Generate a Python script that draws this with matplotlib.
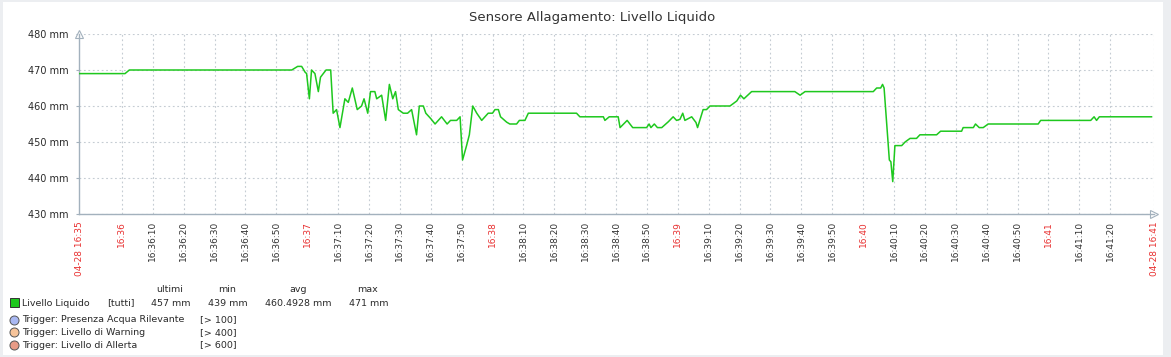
#!/usr/bin/env python3
"""Zabbix-style graph: Sensore Allagamento - Livello Liquido (04-28, 16:35-16:41)."""
import matplotlib
matplotlib.use("Agg")
import matplotlib.pyplot as plt
from matplotlib.patches import Rectangle
from matplotlib.lines import Line2D

W, H = 1171, 357

# seconds after 16:35:00 and level in mm
t_sec = [46, 61, 62.4, 115, 116.9, 118.2, 119.3, 119.8, 120.7, 121.4, 122.5, 123.6,
         124.3, 126.1, 127.6, 128.4, 129.5, 130.6, 132.2, 133.3, 134.6, 136.2, 137.6,
         138.4, 139.6, 140.5, 141.9, 142.5, 144.1, 145.4, 146.6, 147.7, 148.6, 149.5,
         151.1, 152.5, 153.8, 155.4, 156.3, 157.6, 158.4, 160, 161.4, 163.5, 165.3,
         166.4, 168.4, 169.5, 170.3, 171.6, 172.5, 173.6, 174.9, 176.5, 178.6, 180,
         180.8, 181.9, 182.6, 184.6, 185.6, 187.8, 188.7, 190.5, 191.6, 207.2, 208.3,
         215.9, 216.4, 217.8, 220.7, 221.3, 223.6, 225.4, 229.9, 230.7, 231.3, 232.4,
         233.4, 234.8, 236.9, 238.5, 239.6, 240.7, 241.6, 242.3, 244.5, 245.9, 246.4,
         248.2, 249.3, 250.4, 256.9, 259.1, 260.3, 261.4, 263.9, 277.9, 279.6, 281.2,
         303.3, 304.4, 305.7, 306.3, 306.8, 308.5, 309, 309.6, 310.3, 312.5, 313.6,
         315.2, 317.3, 318.4, 323.8, 325.1, 331.9, 332.4, 335.7, 336.4, 337.6, 338.9,
         340.5, 356.7, 357.5, 373.7, 374.8, 375.6, 376.5, 393.4]
level = [469, 469, 470, 470, 471, 471, 469.4, 469, 462, 470, 469, 464,
         468, 470, 470, 458, 459, 454, 462, 461, 465, 459, 460,
         462, 458, 464, 464, 462, 463, 456, 466, 462, 464, 459,
         458, 458, 459, 452, 460, 460, 458, 456.5, 455, 457, 455,
         456, 456, 457, 445, 449, 452, 460, 458, 456, 458, 458,
         459, 459, 457, 455.5, 455, 455, 456, 456, 458, 458, 457,
         457, 456, 457, 457, 454, 456, 454, 454, 455, 454, 455,
         454, 454, 455.6, 457, 456, 456.3, 458, 456, 457, 455.4, 454,
         459, 459, 460, 460, 461.4, 463, 462, 464, 464, 463, 464,
         464, 465, 465, 466, 465, 445, 444.5, 439, 449, 449, 450,
         451, 451, 452, 452, 453, 453, 454, 454, 455, 454, 454,
         455, 455, 456, 456, 457, 456, 457, 457]

t_start, t_end = 46.1, 394.2
y_ticks = [430, 440, 450, 460, 470, 480]
x_ticks = list(range(60, 390, 10))
edge_labels = ["04-28 16:35", "04-28 16:41"]

legend_stats = ["457 mm", "439 mm", "460.4928 mm", "471 mm"]
legend_heads = ["ultimi", "min", "avg", "max"]
triggers = [("Trigger: Presenza Acqua Rilevante", "[> 100]", "#a9b8f2"),
            ("Trigger: Livello di Warning", "[> 400]", "#f7c49a"),
            ("Trigger: Livello di Allerta", "[> 600]", "#e79b86")]

LINE = "#1ec81e"
GRID = "#c5ccd3"
AXIS = "#a3b1bd"
RED = "#e83030"
TXT = "#2a2a2a"
DOT = (0, (1.6, 2.4))
LFS = 6.8


def fx(px):
    return px / W


def fy(py):
    return 1 - py / H


fig = plt.figure(figsize=(W / 100, H / 100), dpi=100, facecolor="#eceef1")
fig.patches.append(Rectangle((fx(3), fy(355)), fx(1160), 353 / H, transform=fig.transFigure,
                             facecolor="white", edgecolor="none", zorder=-5))

ax = fig.add_axes([fx(79), fy(214), fx(1154 - 79), 180 / H])
ax.set_facecolor("none")
ax.plot(t_sec, level, color=LINE, lw=1.1, zorder=3)
ax.set_xlim(t_start, t_end)
ax.set_ylim(430, 480)

ax.set_yticks(y_ticks)
ax.set_yticklabels([f"{v} mm" for v in y_ticks], fontsize=7, color=TXT)
ax.set_xticks(x_ticks)
labs = []
for s in x_ticks:
    m, sec = divmod(s, 60)
    labs.append(f"16:{35 + m:02d}" if sec == 0 else f"16:{35 + m:02d}:{sec:02d}")
ax.set_xticklabels(labs, rotation=90, fontsize=6.5, color="#333333")
for lab, s in zip(ax.get_xticklabels(), x_ticks):
    if s % 60 == 0:
        lab.set_color(RED)
ax.tick_params(axis="y", length=2.5, color=AXIS, pad=5)
ax.tick_params(axis="x", length=0, pad=5)

ax.grid(True, color=GRID, ls=DOT, lw=0.8)
ax.axvline(t_end, color=GRID, ls=DOT, lw=0.8)
for sp in ["top", "right"]:
    ax.spines[sp].set_visible(False)
for sp in ["left", "bottom"]:
    ax.spines[sp].set_color(AXIS)
    ax.spines[sp].set_linewidth(1)

# arrow heads at axis ends
ax.plot([0], [1.0], marker="^", ms=6, mfc="white", mec=AXIS, mew=0.8,
        transform=ax.transAxes, clip_on=False)
ax.plot([1.0], [0], marker=">", ms=6, mfc="white", mec=AXIS, mew=0.8,
        transform=ax.transAxes, clip_on=False)

# edge time labels
for t, lab in zip([t_start, t_end], edge_labels):
    ax.annotate(lab, (t, 430), xytext=(0, -5), textcoords="offset points", rotation=90,
                fontsize=6.5, color=RED, ha="center", va="top", annotation_clip=False)

fig.text(fx(592), fy(18), "Sensore Allagamento: Livello Liquido", ha="center", va="center",
         fontsize=9.5, color="#333333")

# legend block
for x, h in zip([170, 227, 298, 368], legend_heads):
    fig.text(fx(x), fy(290), h, ha="center", va="center", fontsize=LFS, color=TXT)
fig.patches.append(Rectangle((fx(10), fy(307)), fx(8.5), 9 / H, transform=fig.transFigure,
                             facecolor=LINE, edgecolor="#333333", lw=0.7))
fig.text(fx(22), fy(303), "Livello Liquido", ha="left", va="center", fontsize=LFS, color=TXT)
fig.text(fx(107), fy(303), "[tutti]", ha="left", va="center", fontsize=LFS, color=TXT)
for x, s in zip([151, 208, 265, 349], legend_stats):
    fig.text(fx(x), fy(303), s, ha="left", va="center", fontsize=LFS, color=TXT)

for i, (name, cond, col) in enumerate(triggers):
    y = 319.5 + i * 12.8
    fig.add_artist(Line2D([fx(14)], [fy(y)], marker="o", ms=6.5, mfc=col, mec="#555555",
                          mew=0.7, transform=fig.transFigure))
    fig.text(fx(22), fy(y), name, ha="left", va="center", fontsize=LFS, color=TXT)
    fig.text(fx(200), fy(y), cond, ha="left", va="center", fontsize=LFS, color=TXT)

fig.savefig("out.png", dpi=100, facecolor=fig.get_facecolor())
